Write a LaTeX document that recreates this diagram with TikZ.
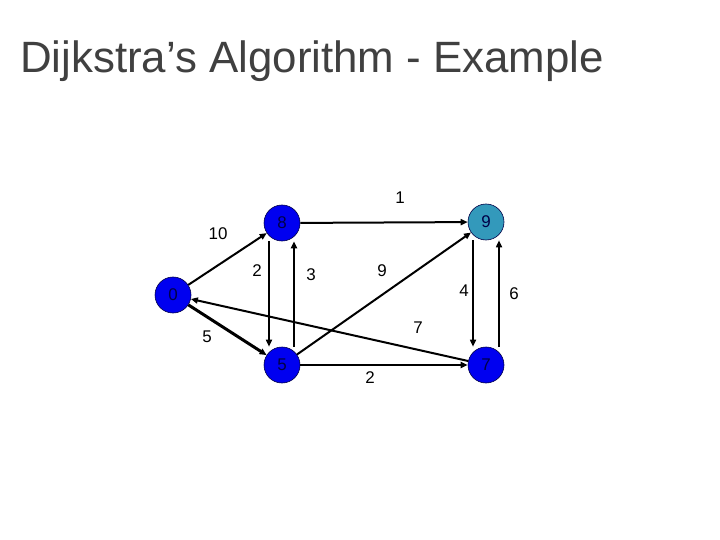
\documentclass[tikz,border=0pt]{standalone}
\usepackage{fontspec}
\setmainfont{Liberation Sans}
\usetikzlibrary{arrows.meta}
\definecolor{titlegray}{RGB}{64,64,64}
\definecolor{nodeblue}{RGB}{0,0,240}
\definecolor{nodeteal}{RGB}{51,153,187}
\definecolor{numnavy}{RGB}{0,0,70}
\begin{document}
\begin{tikzpicture}[x=1bp,y=-1bp,
  vtx/.style={circle,draw=numnavy,line width=0.6bp,fill=nodeblue,minimum size=36bp,inner sep=0pt,
    font=\fontsize{17}{17}\selectfont,text=numnavy},
  edge/.style={line width=2bp,-{Triangle[length=7bp,width=6bp]}},
  wlabel/.style={font=\fontsize{17}{17}\selectfont,text=black}]
\useasboundingbox (0,0) rectangle (720,540);
\fill[white] (0,0) rectangle (720,540);
\node[anchor=base west,text=titlegray,font=\fontsize{44}{44}\selectfont,inner sep=0pt] (title) at (20,73) {Dijkstra’s Algorithm - Example};
\node[vtx] (n0) at (173,295) {0};
\node[vtx] (n8) at (282,223) {8};
\node[vtx,fill=nodeteal] (n9) at (486,222) {9};
\node[vtx] (n5) at (282,365) {5};
\node[vtx] (n7) at (486,365) {7};
% edges
\draw[edge] (n0) -- (n8);
\draw[edge,line width=3bp] (n0) -- (n5);
\draw[edge,line width=1.6bp] ([xshift=-13bp]n8.south) -- ([xshift=-13bp]n5.north);
\draw[edge] ([xshift=12bp]n5.north) -- ([xshift=12bp]n8.south);
\draw[edge] (n8) -- (n9);
\draw[edge] (n5) -- (n9);
\draw[edge,line width=1.6bp] ([xshift=-13bp]n9.south) -- ([xshift=-13bp]n7.north);
\draw[edge,line width=1.6bp] ([xshift=13bp]n7.north) -- ([xshift=13bp]n9.south);
\draw[edge] (n7) -- (n0);
\draw[edge] (n5) -- (n7);
% labels
\node[wlabel] (l1) at (400,198) {1};
\node[wlabel] (l10) at (218,234) {10};
\node[wlabel] (l2a) at (257,271) {2};
\node[wlabel] (l3) at (311,275) {3};
\node[wlabel] (l9) at (382,271) {9};
\node[wlabel] (l4) at (464,291) {4};
\node[wlabel] (l6) at (514,294) {6};
\node[wlabel] (l7) at (418,328) {7};
\node[wlabel] (l5) at (207,337) {5};
\node[wlabel] (l2b) at (370,378) {2};
\end{tikzpicture}
\end{document}
